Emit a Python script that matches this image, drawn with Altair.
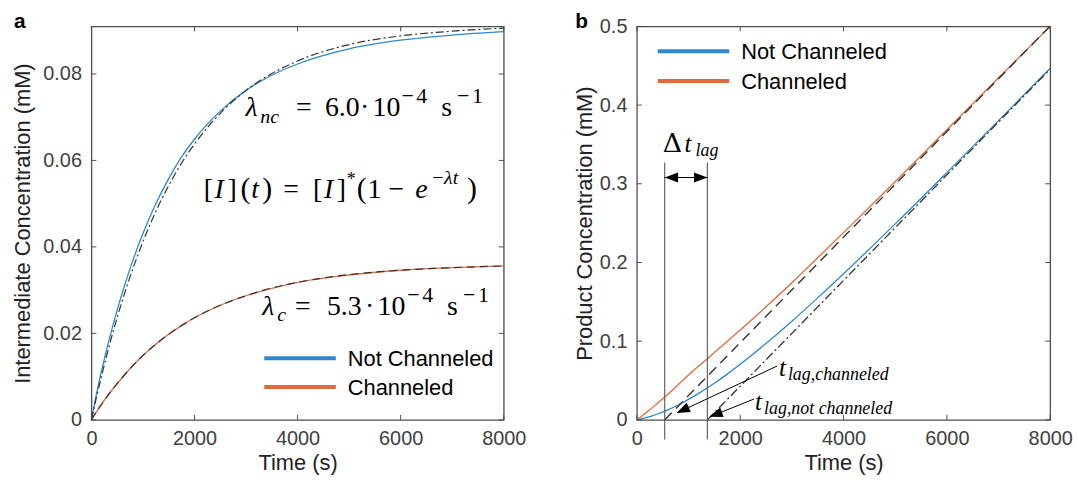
import altair as alt
import pandas as pd

# ---- data -----------------------------------------------------------------
time_s = [0, 100, 200, 400, 600, 800, 1000, 1250, 1500, 1750, 2000,
          2500, 3000, 3500, 4000, 5000, 6000, 7000, 8000]

# intermediate concentration (mM), simulation
inter_not_channeled = [0, 0.0061, 0.0115, 0.0211, 0.0294, 0.0367, 0.0431, 0.0500,
                       0.0558, 0.0608, 0.0649, 0.0714, 0.0762, 0.0797, 0.0823,
                       0.0858, 0.0878, 0.0890, 0.0898]
inter_channeled = [0, 0.0019, 0.0037, 0.0069, 0.0098, 0.0125, 0.0149, 0.0175,
                   0.0198, 0.0218, 0.0236, 0.0265, 0.0287, 0.0304, 0.0318,
                   0.0335, 0.0346, 0.0352, 0.0356]
# single-exponential fits
inter_fit_not_channeled = [0, 0.0053, 0.0103, 0.0195, 0.0276, 0.0348, 0.0412, 0.0482,
                           0.0542, 0.0594, 0.0638, 0.0709, 0.0762, 0.0801, 0.0830,
                           0.0868, 0.0888, 0.0899, 0.0906]
inter_fit_channeled = [0, 0.0019, 0.0036, 0.0069, 0.0098, 0.0125, 0.0149, 0.0175,
                       0.0198, 0.0218, 0.0236, 0.0265, 0.0287, 0.0305, 0.0318,
                       0.0336, 0.0346, 0.0352, 0.0356]

# product concentration (mM)
product_not_channeled = [0, 0.0014, 0.0031, 0.0074, 0.0127, 0.0189, 0.0260, 0.0358,
                         0.0465, 0.0581, 0.0705, 0.0970, 0.1253, 0.1550, 0.1856,
                         0.2490, 0.3142, 0.3802, 0.4467]
product_channeled = [0, 0.0050, 0.0102, 0.0212, 0.0325, 0.0447, 0.0570, 0.0713,
                     0.0855, 0.0998, 0.1141, 0.1437, 0.1743, 0.2059, 0.2379,
                     0.3026, 0.3686, 0.4347, 0.5000]

# steady-state asymptotes of the product curves
asym_t_channeled = [539, 8000]
asym_v_channeled = [0, 0.5005]
asym_t_not_channeled = [1364, 8000]
asym_v_not_channeled = [0, 0.4457]
lag_times = [539, 1364]

series_names = ["Not Channeled", "Channeled"]
x_ticks = [0, 2000, 4000, 6000, 8000]
y_ticks_a = [0, 0.02, 0.04, 0.06, 0.08]
y_ticks_b = [0, 0.1, 0.2, 0.3, 0.4, 0.5]

# ---- style ------------------------------------------------------------------
W_A, W_B, H = 415, 416, 396
SANS = "Liberation Sans"
SERIF = "Liberation Serif"
BLUE = "#2c88d0"
ORANGE = "#e2693a"
FIT = "#333333"
BOX = "#4d4d4d"
LABEL = "#404040"
COLORS = alt.Scale(domain=series_names, range=[BLUE, ORANGE])


def one_row():
    return alt.Chart(alt.Data(values=[{}]))


def piece(text, x, y, size, italic=False, font=SERIF, weight="normal",
          align="left", color="black"):
    return one_row().mark_text(
        text=text, font=font, fontSize=size,
        fontStyle="italic" if italic else "normal", fontWeight=weight,
        align=align, baseline="alphabetic", color=color,
    ).encode(x=alt.value(x), y=alt.value(y))


def make_axes(title_y, y_vals, y_title_pad):
    xa = alt.Axis(values=x_ticks, format="d", title="Time (s)", ticks=False,
                  domain=False, grid=False, labelFont=SANS, labelFontSize=20,
                  labelColor=LABEL, labelPadding=9, titleFont=SANS,
                  titleFontSize=22, titleFontWeight="normal", titleColor="#222222",
                  titlePadding=4, labelFlush=False)
    ya = alt.Axis(values=y_vals, format="~g", title=title_y, ticks=False,
                  domain=False, grid=False, labelFont=SANS, labelFontSize=20,
                  labelColor=LABEL, labelPadding=10, titleFont=SANS,
                  titleFontSize=22, titleFontWeight="normal", titleColor="#222222",
                  titlePadding=y_title_pad, labelFlush=False)
    return xa, ya


class Panel:
    """Shared scales and axes for every layer of one panel."""

    def __init__(self, y_max, title_y, y_vals, y_title_pad, width):
        self.xs = alt.Scale(domain=[0, 8000], nice=False, zero=False)
        self.ys = alt.Scale(domain=[0, y_max], nice=False, zero=False)
        self.xa, self.ya = make_axes(title_y, y_vals, y_title_pad)
        self.y_vals = y_vals
        self.w = width

    def X(self, field):
        return alt.X(field, type="quantitative", scale=self.xs, axis=self.xa)

    def Y(self, field):
        return alt.Y(field, type="quantitative", scale=self.ys, axis=self.ya)

    def ticks(self):
        xt = alt.Chart(pd.DataFrame({"t": x_ticks}))
        yt = alt.Chart(pd.DataFrame({"v": self.y_vals}))
        w = self.w
        return [
            xt.mark_rule(color=BOX).encode(x=self.X("t"), y=alt.value(H), y2=alt.value(H - 5)),
            xt.mark_rule(color=BOX).encode(x=self.X("t"), y=alt.value(0), y2=alt.value(5)),
            yt.mark_rule(color=BOX).encode(y=self.Y("v"), x=alt.value(0), x2=alt.value(5)),
            yt.mark_rule(color=BOX).encode(y=self.Y("v"), x=alt.value(w), x2=alt.value(w - 5)),
        ]

    def line(self, t, v, **mark):
        return alt.Chart(pd.DataFrame({"t": t, "v": v})).mark_line(**mark).encode(
            x=self.X("t"), y=self.Y("v"))


def legend(x0, y0, gap):
    layers = []
    for i, name in enumerate(series_names):
        y = y0 + i * gap
        col = BLUE if i == 0 else ORANGE
        layers.append(one_row().mark_rule(color=col, strokeWidth=4).encode(
            x=alt.value(x0), x2=alt.value(x0 + 72), y=alt.value(y)))
        layers.append(one_row().mark_text(
            text=name, font=SANS, fontSize=22, align="left", baseline="middle",
            color="black").encode(x=alt.value(x0 + 84), y=alt.value(y + 1)))
    return layers


def long_frame(t, cols):
    rows = []
    for name, vals in cols.items():
        for ti, vi in zip(t, vals):
            rows.append({"t": ti, "v": vi, "series": name})
    return pd.DataFrame(rows)


def rate_line(x, y, sym, mantissa, dx_sub, sub):
    """lambda_sub = mantissa . 10^-4 s^-1, laid out piece by piece."""
    return [
        piece("λ", x, y, 28, italic=True),
        piece(sub, x + dx_sub, y + 7, 20, italic=True),
        piece("=", x + sym[0], y, 28),
        piece(mantissa, x + sym[1], y, 28),
        piece("·", x + sym[2], y, 28, align="center"),
        piece("10", x + sym[3], y, 28),
        piece("−", x + sym[4], y - 13, 22),
        piece("4", x + sym[5], y - 13, 22),
        piece("s", x + sym[6], y, 28),
        piece("−", x + sym[7], y - 13, 22),
        piece("1", x + sym[8], y - 13, 22),
    ]


# ---- panel a: intermediate ---------------------------------------------------
pa = Panel(0.091, "Intermediate Concentration (mM)", y_ticks_a, 8, W_A)

sim_a = alt.Chart(long_frame(time_s, {
    "Not Channeled": inter_not_channeled, "Channeled": inter_channeled,
})).mark_line(strokeWidth=1.3, interpolate="monotone").encode(
    x=pa.X("t"), y=pa.Y("v"),
    color=alt.Color("series:N", scale=COLORS, legend=None),
)
fit_nc_a = pa.line(time_s, inter_fit_not_channeled, color=FIT, strokeWidth=1.2,
                   strokeDash=[8, 3, 2, 3], interpolate="monotone")
fit_c_a = pa.line(time_s, inter_fit_channeled, color=FIT, strokeWidth=1.2,
                  strokeDash=[8, 5], interpolate="monotone")

eq_a = (
    rate_line(155, 90, [51, 80, 120, 128, 157, 172, 197, 213, 228], "6.0", 15, "nc")
    + rate_line(172, 290, [33, 65, 108, 116, 146, 161, 186, 202, 217], "5.3", 15, "c")
    + [
        # [I](t) = [I]*(1 - e^{-lambda t})
        piece("[", 113, 173, 28),
        piece("I", 124, 173, 28, italic=True),
        piece("]", 137, 173, 28),
        piece("(", 150, 173, 30),
        piece("t", 161, 173, 28, italic=True),
        piece(")", 172, 173, 30),
        piece("=", 193, 173, 28),
        piece("[", 223, 173, 28),
        piece("I", 234, 173, 28, italic=True),
        piece("]", 247, 173, 28),
        piece("*", 257, 160, 18),
        piece("(", 267, 173, 30),
        piece("1", 278, 173, 28),
        piece("−", 299, 173, 28),
        piece("e", 326, 173, 28, italic=True),
        piece("−", 343, 159, 20),
        piece("λt", 355, 159, 20, italic=True),
        piece(")", 378, 173, 30),
        piece("a", -78, 2, 21, font=SANS, weight="bold"),
    ]
)

panel_a = alt.layer(
    sim_a, fit_nc_a, fit_c_a,
    *pa.ticks(),
    *legend(174, 334, 29),
    *eq_a,
).properties(width=W_A, height=H)

# ---- panel b: product --------------------------------------------------------
pb = Panel(0.5, "Product Concentration (mM)", y_ticks_b, 3, W_B)

sim_b = alt.Chart(long_frame(time_s, {
    "Not Channeled": product_not_channeled, "Channeled": product_channeled,
})).mark_line(strokeWidth=1.3, interpolate="monotone").encode(
    x=pb.X("t"), y=pb.Y("v"),
    color=alt.Color("series:N", scale=COLORS, legend=None),
)
asym_c = pb.line(asym_t_channeled, asym_v_channeled, color=FIT, strokeWidth=1.4,
                 strokeDash=[10, 6])
asym_nc = pb.line(asym_t_not_channeled, asym_v_not_channeled, color=FIT,
                  strokeWidth=1.3, strokeDash=[9, 3, 2, 3])

lag_lines = alt.Chart(pd.DataFrame({"t": lag_times, "top": [0.327, 0.327],
                                    "bottom": [-0.025, -0.025]})).mark_rule(
    color="#555555", strokeWidth=1.1
).encode(x=pb.X("t"), y=pb.Y("top"), y2="bottom:Q")

span = alt.Chart(pd.DataFrame({"t": [lag_times[0]], "t2": [lag_times[1]],
                               "v": [0.308]})).mark_rule(
    color="black", strokeWidth=1.2
).encode(x=pb.X("t"), x2="t2:Q", y=pb.Y("v"))

HEAD_LEFT = "M0,0 L4,-1.5 L4,1.5 Z"
HEAD_RIGHT = "M0,0 L-4,-1.5 L-4,1.5 Z"


def head(t, v, shape, angle=0):
    return alt.Chart(pd.DataFrame({"t": [t], "v": [v]})).mark_point(
        shape=shape, size=45, filled=True, color="black", opacity=1,
        angle=angle, strokeWidth=0
    ).encode(x=pb.X("t"), y=pb.Y("v"))


def pointer(t0, v0, t1, v1):
    return alt.Chart(pd.DataFrame({"t": [t0], "v": [v0], "t2": [t1],
                                   "v2": [v1]})).mark_rule(
        color="black", strokeWidth=1
    ).encode(x=pb.X("t"), x2="t2:Q", y=pb.Y("v"), y2="v2:Q")


notes_b = [
    piece("Δ", 26, 126, 27, font="DejaVu Serif"),
    piece("t", 48, 126, 25, italic=True),
    piece("lag", 59, 130, 18, italic=True),
    piece("t", 143, 352, 25, italic=True),
    piece("lag,channeled", 152, 356, 18, italic=True),
    piece("t", 119, 386, 25, italic=True),
    piece("lag,not channeled", 128, 390, 18, italic=True),
    piece("b", -62, 2, 21, font=SANS, weight="bold"),
]

panel_b = alt.layer(
    sim_b, asym_c, asym_nc, lag_lines, span,
    head(lag_times[0], 0.308, HEAD_LEFT),
    head(lag_times[1], 0.308, HEAD_RIGHT),
    pointer(2712, 0.0683, 800, 0.0095),
    head(769, 0.0088, HEAD_LEFT, 335.6),
    pointer(2269, 0.0265, 1440, 0.0045),
    head(1404, 0.0038, HEAD_LEFT, 340),
    *pb.ticks(),
    *legend(21, 25, 30),
    *notes_b,
).properties(width=W_B, height=H)

chart = alt.hconcat(panel_a, panel_b, spacing=134, bounds="flush").configure_view(
    stroke=BOX, strokeWidth=1.3
).properties(
    padding={"left": 11, "top": 9, "right": 5, "bottom": 5},
    background="white",
)

chart.save("out.html", embed_options={"renderer": "svg", "actions": False})
